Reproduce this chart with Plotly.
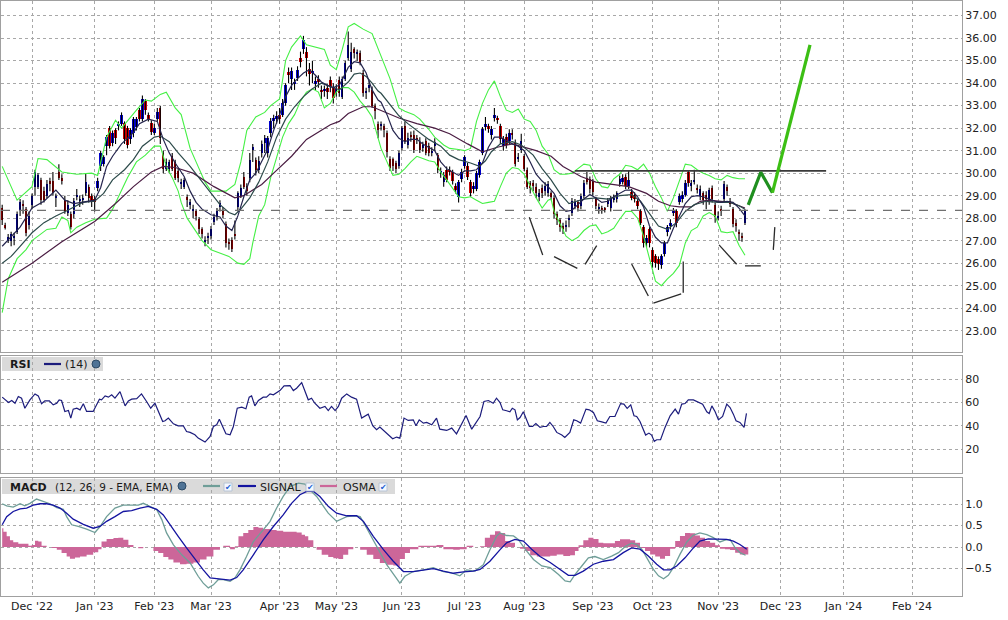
import plotly.graph_objects as go
from plotly.subplots import make_subplots

# daily bars, index 0 = mid Nov 2022, one bar per trading day
opens = [
    28.45, 27.7, 27.0, 27.0, 27.1, 27.4, 28.3, 28.65, 28.4, 27.7,
    28.6, 29.4, 29.4, 29.7, 29.2, 29.0, 29.65, 29.65, 28.9, 30.07,
    29.8, 28.8, 28.25, 28.2, 28.2, 28.95, 28.75, 28.8, 29.1, 29.4,
    29.0, 28.85, 29.33, 30.3, 30.4, 31.2, 32.0, 31.35, 31.9, 32.1,
    32.2, 32.25, 32.0, 31.5, 31.8, 32.05, 32.8, 32.4, 33.2, 32.6,
    32.25, 31.8, 32.4, 32.9, 30.9, 30.2, 30.2, 30.75, 30.5, 30.1,
    29.5, 29.4, 28.95, 28.6, 28.3, 28.3, 27.95, 27.5, 26.95, 27.1,
    27.2, 27.85, 28.05, 28.5, 28.35, 27.75, 26.95, 27.05, 27.3, 28.5,
    29.0, 29.85, 29.45, 29.8, 31.05, 30.6, 30.15, 30.9, 31.35, 30.9,
    31.8, 32.3, 32.4, 32.6, 32.6, 33.1, 34.5, 34.2, 33.95, 34.25,
    35.1, 35.5, 35.4, 34.65, 34.45, 33.95, 34.2, 33.7, 33.65, 33.8,
    34.15, 33.85, 33.55, 34.15, 33.4, 34.2, 35.1, 34.65, 35.5, 35.3,
    35.35, 34.45, 33.55, 33.8, 33.7, 33.0, 32.2, 32.1, 32.1, 31.8,
    30.65, 30.65, 30.45, 30.3, 31.1, 32.1, 31.25, 31.7, 31.7, 31.55,
    31.4, 31.1, 31.45, 31.2, 30.9, 31.2, 30.8, 30.0, 29.6, 30.15,
    30.15, 30.05, 29.45, 28.95, 29.75, 30.3, 30.3, 29.6, 29.3, 29.3,
    29.9, 30.9, 32.05, 32.1, 31.7, 32.45, 32.45, 32.1, 31.2, 31.6,
    31.45, 31.8, 31.35, 30.65, 31.05, 30.75, 30.15, 29.55, 29.55, 29.4,
    28.95, 29.35, 29.2, 29.1, 29.1, 28.9, 28.2, 27.9, 27.65, 27.6,
    27.9, 28.25, 28.55, 28.7, 28.55, 29.0, 29.8, 29.73, 29.65, 28.85,
    28.4, 28.45, 28.42, 28.65, 28.45, 28.85, 28.85, 29.5, 29.6, 29.85,
    29.45, 29.15, 29.05, 28.75, 28.3, 27.6, 26.9, 27.5, 26.6, 26.3,
    26.2, 25.9, 26.4, 27.4, 27.65, 28.25, 28.3, 28.7, 28.85, 29.05,
    30.05, 29.45, 29.6, 29.32, 29.0, 29.1, 29.05, 28.75, 29.35, 28.6,
    28.05, 28.4, 28.85, 29.4, 28.75, 28.4, 27.8, 27.35, 27.2, 27.8,
]
highs = [
    28.6, 27.8, 27.3, 27.4, 27.35, 28.3, 28.85, 28.8, 28.5, 28.3,
    29.1, 30.15, 30.0, 29.8, 29.4, 29.7, 29.8, 30.05, 29.1, 30.4,
    29.95, 29.0, 28.8, 28.3, 28.9, 29.3, 29.0, 29.05, 30.0, 29.5,
    29.1, 29.0, 29.8, 31.0, 30.8, 31.7, 32.1, 31.9, 32.0, 32.3,
    32.7, 32.3, 32.1, 32.0, 32.5, 32.5, 32.9, 33.45, 33.3, 32.7,
    32.35, 32.2, 32.9, 33.0, 31.0, 30.65, 30.6, 30.9, 30.6, 30.2,
    29.75, 29.8, 29.05, 28.85, 28.6, 28.4, 28.05, 27.6, 27.2, 27.35,
    27.65, 28.2, 28.45, 28.8, 28.5, 27.85, 27.1, 27.15, 27.9, 29.2,
    29.5, 30.05, 29.55, 30.9, 31.3, 30.7, 30.75, 31.45, 31.7, 31.65,
    32.45, 32.6, 32.75, 32.9, 33.3, 34.0, 34.7, 34.7, 34.2, 34.75,
    35.4, 36.1, 35.6, 34.9, 35.0, 34.3, 34.35, 33.9, 33.9, 33.95,
    34.3, 34.0, 33.95, 34.3, 34.3, 35.0, 36.3, 35.8, 35.6, 35.5,
    35.45, 34.6, 33.8, 34.1, 33.85, 33.1, 32.3, 32.3, 32.2, 31.9,
    30.75, 30.7, 30.55, 31.0, 32.1, 32.3, 31.8, 31.85, 31.9, 31.7,
    31.6, 31.4, 31.55, 31.35, 31.15, 31.55, 30.9, 30.25, 30.05, 30.3,
    30.3, 30.15, 29.55, 29.7, 30.2, 30.8, 30.45, 29.7, 29.6, 30.1,
    30.6, 32.05, 32.5, 32.2, 32.1, 32.9, 32.55, 32.2, 31.65, 31.75,
    31.95, 31.95, 31.5, 30.9, 31.75, 30.85, 30.25, 29.65, 29.7, 29.55,
    29.3, 29.5, 29.6, 29.65, 29.2, 29.0, 28.3, 28.0, 27.8, 27.9,
    28.15, 28.9, 28.85, 28.8, 29.1, 29.7, 30.05, 29.85, 29.75, 28.95,
    28.65, 28.55, 28.5, 28.9, 29.0, 29.05, 29.2, 29.9, 29.95, 29.95,
    30.1, 29.3, 29.15, 28.85, 28.4, 27.7, 27.25, 27.6, 26.7, 26.4,
    26.3, 26.4, 27.0, 27.7, 27.95, 28.45, 28.4, 29.1, 29.2, 29.7,
    30.1, 29.7, 30.15, 29.5, 29.45, 29.2, 29.2, 29.35, 29.45, 28.7,
    28.3, 28.55, 29.65, 29.5, 28.9, 28.5, 27.95, 27.5, 27.35, 28.4,
]
lows = [
    27.7, 27.5, 26.9, 26.75, 26.8, 27.3, 28.1, 28.2, 27.2, 27.5,
    28.4, 29.0, 29.3, 28.6, 28.7, 28.9, 29.2, 29.0, 28.5, 29.7,
    29.5, 28.2, 28.1, 27.5, 28.0, 28.8, 28.5, 28.6, 29.0, 28.7,
    28.5, 28.3, 29.2, 30.1, 30.3, 30.8, 31.1, 31.2, 31.3, 31.9,
    32.1, 31.3, 31.1, 31.3, 31.6, 31.9, 32.3, 32.3, 32.6, 32.3,
    31.7, 31.7, 32.3, 31.3, 30.0, 30.1, 30.0, 30.1, 29.7, 29.6,
    29.3, 29.3, 28.5, 28.4, 28.0, 27.9, 27.3, 27.1, 26.75, 26.85,
    27.05, 27.7, 27.9, 28.3, 28.0, 26.7, 26.6, 26.5, 27.05, 28.3,
    28.9, 29.3, 29.0, 29.6, 30.5, 29.9, 30.0, 30.7, 30.9, 30.7,
    31.6, 32.0, 32.2, 32.2, 32.5, 33.0, 34.0, 33.7, 33.7, 34.1,
    34.7, 35.3, 34.3, 33.9, 34.0, 33.7, 33.8, 33.3, 33.4, 33.3,
    33.6, 33.1, 33.4, 33.4, 33.3, 34.1, 35.0, 34.5, 35.1, 35.0,
    34.8, 33.4, 33.3, 33.6, 32.9, 32.4, 31.55, 31.9, 31.6, 30.7,
    30.1, 30.1, 30.0, 30.2, 31.0, 31.3, 31.1, 31.4, 30.9, 31.3,
    30.9, 30.95, 30.8, 30.75, 30.75, 31.0, 30.0, 29.8, 29.4, 29.6,
    29.9, 29.5, 29.1, 28.7, 29.6, 30.2, 29.7, 28.95, 29.1, 29.2,
    29.8, 30.8, 31.9, 31.8, 31.5, 32.3, 32.2, 31.3, 31.0, 31.1,
    31.3, 31.5, 30.3, 30.5, 30.9, 30.1, 29.3, 29.1, 29.2, 28.9,
    28.75, 28.9, 29.0, 28.95, 28.8, 28.0, 27.7, 27.4, 27.3, 27.4,
    27.6, 28.1, 28.4, 28.3, 28.4, 28.9, 29.5, 29.1, 29.0, 28.4,
    28.2, 28.2, 28.25, 28.5, 28.3, 28.7, 28.7, 29.4, 29.5, 29.3,
    29.3, 28.8, 28.7, 28.4, 27.7, 26.7, 26.7, 26.7, 25.8, 25.8,
    25.7, 25.75, 26.3, 27.2, 27.5, 28.1, 27.6, 28.6, 28.7, 28.95,
    29.4, 29.2, 29.5, 29.1, 28.8, 28.6, 28.4, 28.6, 28.7, 27.8,
    27.9, 28.1, 28.7, 29.0, 28.5, 27.6, 27.4, 27.0, 26.95, 27.7,
]
closes = [
    27.9, 27.55, 27.15, 27.3, 27.2, 28.2, 28.7, 28.55, 27.35, 28.1,
    29.0, 30.07, 29.9, 28.8, 28.8, 29.5, 29.5, 29.1, 29.0, 29.8,
    29.65, 28.3, 28.6, 27.6, 28.75, 29.05, 28.85, 28.9, 29.6, 28.9,
    28.75, 28.7, 29.65, 30.9, 30.7, 31.6, 31.2, 31.8, 31.55, 32.2,
    32.6, 31.5, 31.25, 31.9, 32.4, 32.4, 32.4, 33.3, 32.8, 32.4,
    31.85, 32.0, 32.7, 31.55, 30.2, 30.5, 30.5, 30.2, 29.8, 29.8,
    29.6, 29.7, 28.8, 28.7, 28.4, 28.1, 27.5, 27.3, 27.05, 27.2,
    27.5, 28.05, 28.3, 28.67, 28.15, 26.9, 26.85, 26.65, 27.2, 29.1,
    29.35, 29.4, 29.2, 30.6, 31.15, 30.15, 30.55, 31.3, 31.55, 31.55,
    32.3, 32.45, 32.55, 32.4, 33.1, 33.9, 34.35, 34.55, 34.05, 34.6,
    34.95, 35.9, 35.1, 34.4, 34.55, 34.1, 34.05, 33.6, 33.75, 33.6,
    33.85, 33.35, 33.8, 33.55, 34.2, 34.9, 35.7, 35.4, 35.35, 35.35,
    34.95, 33.55, 33.65, 33.9, 33.0, 32.75, 31.9, 32.2, 31.9, 30.95,
    30.25, 30.3, 30.2, 30.9, 32.0, 31.4, 31.55, 31.6, 31.05, 31.5,
    31.05, 31.25, 30.9, 30.9, 31.0, 31.4, 30.15, 30.1, 29.9, 29.7,
    30.05, 29.65, 29.25, 29.6, 30.05, 30.7, 29.85, 29.1, 29.45, 30.0,
    30.5, 31.95, 32.2, 31.95, 31.95, 32.6, 32.4, 31.5, 31.5, 31.25,
    31.8, 31.7, 30.4, 30.7, 31.45, 30.2, 29.4, 29.35, 29.45, 29.1,
    29.1, 29.1, 29.45, 29.5, 28.95, 28.2, 27.9, 27.6, 27.5, 27.7,
    28.0, 28.75, 28.7, 28.45, 29.0, 29.55, 29.6, 29.3, 29.15, 28.55,
    28.5, 28.35, 28.38, 28.75, 28.85, 28.9, 29.1, 29.75, 29.8, 29.45,
    29.7, 28.9, 28.85, 28.55, 27.8, 26.9, 27.1, 26.9, 26.05, 26.0,
    25.95, 26.3, 26.9, 27.6, 27.8, 28.35, 27.8, 29.0, 29.05, 29.55,
    29.55, 29.55, 29.7, 29.28, 29.3, 28.8, 28.85, 29.25, 28.85, 28.05,
    28.1, 28.3, 29.5, 29.2, 28.65, 27.75, 27.65, 27.3, 27.1, 28.35,
]

month_ticks = [10, 31, 51, 70, 93, 112, 134, 155, 175, 198, 218, 240, 261, 282, 305]
month_labels = ["Dec '22", "Jan '23", "Feb '23", "Mar '23", "Apr '23", "May '23", "Jun '23",
                "Jul '23", "Aug '23", "Sep '23", "Oct '23", "Nov '23", "Dec '23", "Jan '24", "Feb '24"]

# overlays as (bar index, value)
bb_upper = [(0, 30.3), (5, 28.8), (10, 29.4), (12, 30.65), (15, 30.6), (20, 30.05), (25, 29.95),
            (30, 30.0), (32, 29.9), (35, 31.6), (38, 32.35), (40, 32.0), (45, 32.8), (48, 33.25),
            (50, 33.2), (53, 33.5), (55, 33.6), (58, 32.9), (60, 32.6), (63, 31.1), (65, 30.5),
            (68, 29.6), (70, 29.2), (75, 29.2), (78, 29.5), (80, 30.5), (82, 31.9), (85, 32.5),
            (88, 32.7), (90, 33.0), (93, 33.3), (95, 35.0), (97, 35.6), (100, 36.1), (102, 35.7),
            (105, 35.6), (108, 35.5), (110, 34.8), (112, 34.6), (114, 35.5), (116, 36.5),
            (118, 36.65), (121, 36.4), (124, 36.2), (127, 35.2), (128, 34.8), (130, 34.2),
            (133, 32.9), (135, 32.75), (138, 32.6), (140, 32.4), (143, 31.95), (145, 31.6),
            (148, 31.25), (150, 31.1), (153, 31.05), (155, 31.0), (157, 31.1), (159, 32.3),
            (161, 33.1), (163, 33.7), (165, 34.1), (167, 33.4), (169, 32.8), (171, 32.7),
            (173, 32.85), (175, 32.4), (177, 32.3), (179, 31.9), (181, 31.2), (183, 30.85),
            (185, 30.15), (187, 29.95), (189, 29.95), (191, 30.0), (193, 30.2), (195, 30.4),
            (197, 30.35), (199, 29.75), (201, 29.4), (203, 29.35), (205, 29.75), (207, 29.95),
            (209, 30.35), (211, 30.3), (213, 30.15), (215, 30.4), (217, 30.0), (219, 29.4),
            (221, 28.9), (223, 28.3), (225, 28.9), (227, 29.7), (229, 30.4), (231, 30.35),
            (233, 30.15), (235, 30.0), (237, 29.9), (239, 29.75), (241, 29.7), (243, 29.9),
            (245, 29.8), (247, 29.75), (249, 29.75)]
bb_lower = [(0, 23.8), (2, 25.3), (5, 26.2), (8, 26.6), (10, 27.0), (12, 27.2), (15, 27.5),
            (18, 27.55), (20, 28.05), (22, 27.9), (23, 27.35), (25, 27.6), (28, 27.8), (31, 27.95),
            (35, 28.0), (37, 28.4), (40, 29.2), (42, 29.8), (45, 30.5), (48, 30.8), (51, 31.2),
            (53, 31.2), (55, 30.3), (57, 29.8), (59, 29.2), (60, 28.7), (62, 28.0), (65, 27.4),
            (67, 27.0), (70, 26.6), (73, 26.45), (76, 26.3), (79, 26.0), (81, 25.95), (83, 26.2),
            (84, 26.9), (86, 28.1), (88, 28.6), (90, 29.8), (92, 30.7), (94, 31.6), (96, 32.2),
            (98, 32.6), (100, 33.2), (102, 33.6), (104, 33.75), (106, 33.6), (108, 32.9),
            (110, 33.1), (112, 33.6), (114, 33.8), (116, 33.8), (118, 33.6), (120, 33.2),
            (122, 32.9), (124, 32.5), (126, 31.5), (127, 31.1), (129, 30.5), (131, 29.9),
            (133, 29.95), (135, 30.2), (137, 30.5), (139, 30.75), (141, 30.65), (143, 30.55),
            (145, 30.5), (147, 30.05), (149, 29.7), (151, 29.3), (153, 28.95), (155, 28.9),
            (157, 28.95), (159, 28.8), (161, 28.65), (163, 28.7), (165, 28.75), (167, 29.4),
            (169, 30.0), (171, 30.25), (173, 30.2), (175, 29.95), (177, 29.4), (179, 28.9),
            (181, 28.45), (183, 28.8), (184, 28.85), (185, 28.3), (187, 27.75), (189, 27.2),
            (191, 27.0), (193, 27.15), (195, 27.45), (197, 27.65), (199, 27.7), (201, 27.3),
            (203, 27.4), (205, 27.55), (207, 27.95), (209, 28.3), (211, 28.3), (213, 28.0),
            (215, 27.2), (217, 26.2), (219, 25.2), (221, 25.0), (223, 25.3), (225, 25.55),
            (227, 25.9), (229, 26.9), (231, 27.45), (233, 27.6), (235, 28.1), (237, 28.25),
            (239, 28.1), (241, 27.4), (243, 27.35), (245, 27.4), (247, 26.8), (249, 26.35)]
ma_fast = [(0, 26.75), (3, 27.2), (6, 27.6), (10, 28.45), (14, 28.75), (18, 29.25), (21, 28.8),
           (24, 28.65), (28, 28.75), (31, 28.8), (33, 29.35), (35, 30.3), (37, 30.75), (40, 31.3),
           (44, 31.8), (46, 32.2), (49, 32.4), (52, 32.3), (54, 31.5), (56, 30.9), (58, 30.45),
           (61, 29.85), (63, 29.2), (65, 28.7), (67, 28.4), (70, 28.15), (73, 28.05), (75, 27.65),
           (77, 27.45), (79, 28.1), (81, 28.95), (83, 29.7), (85, 30.0), (87, 30.5), (89, 31.05),
           (91, 31.9), (93, 32.6), (95, 33.4), (97, 33.9), (99, 34.2), (101, 34.45), (103, 34.6),
           (105, 34.35), (107, 34.05), (109, 33.9), (111, 33.8), (113, 33.9), (114, 34.15),
           (116, 34.7), (118, 34.95), (120, 34.9), (122, 34.45), (124, 33.7), (126, 33.25),
           (127, 33.15), (129, 32.6), (131, 31.9), (133, 31.55), (135, 31.4), (137, 31.5),
           (139, 31.5), (141, 31.3), (143, 31.15), (145, 31.0), (147, 30.5), (149, 30.2),
           (151, 30.05), (153, 29.9), (155, 30.1), (157, 30.1), (159, 30.15), (161, 30.45),
           (163, 31.15), (165, 31.6), (167, 31.6), (169, 31.45), (171, 31.3), (173, 31.2),
           (175, 31.0), (177, 30.5), (179, 29.95), (181, 29.65), (183, 29.4), (185, 29.1),
           (187, 28.55), (189, 28.3), (191, 28.35), (193, 28.6), (195, 28.85), (197, 29.05),
           (199, 28.9), (201, 28.7), (203, 28.75), (205, 28.95), (207, 29.1), (209, 29.25),
           (211, 29.25), (213, 28.95), (215, 28.5), (217, 27.65), (219, 27.15), (221, 26.9),
           (223, 26.9), (225, 27.55), (227, 28.1), (229, 28.65), (231, 28.95), (233, 29.0),
           (235, 28.95), (237, 28.85), (239, 28.75), (241, 28.7), (243, 28.75), (245, 28.7),
           (247, 28.45), (249, 28.1)]
ma_mid = [(0, 26.0), (3, 26.3), (6, 26.75), (10, 27.35), (14, 27.8), (18, 28.1), (22, 28.35),
          (27, 28.7), (31, 28.75), (34, 29.1), (37, 29.7), (41, 30.15), (44, 30.6), (47, 31.2),
          (51, 31.6), (53, 31.65), (56, 31.4), (59, 30.9), (63, 30.3), (65, 29.95), (67, 29.6),
          (70, 29.1), (73, 28.6), (76, 28.25), (78, 28.15), (80, 28.4), (83, 28.9), (86, 29.6),
          (89, 30.5), (92, 31.6), (95, 32.4), (98, 32.95), (101, 33.4), (104, 33.75), (107, 34.0),
          (110, 33.85), (113, 33.7), (116, 34.05), (118, 34.4), (120, 34.45), (122, 34.3),
          (124, 34.0), (126, 33.65), (127, 33.55), (130, 33.05), (133, 32.55), (136, 32.2),
          (140, 31.8), (143, 31.5), (147, 31.2), (150, 30.8), (153, 30.6), (157, 30.45),
          (160, 30.3), (162, 30.55), (164, 30.95), (167, 31.3), (171, 31.4), (174, 31.25),
          (178, 30.8), (181, 30.2), (184, 29.7), (187, 29.1), (190, 28.65), (195, 28.85),
          (199, 28.9), (203, 28.85), (207, 29.0), (211, 29.05), (214, 28.75), (217, 28.2),
          (220, 27.65), (223, 27.5), (226, 27.8), (229, 28.3), (232, 28.6), (236, 28.75),
          (240, 28.7), (244, 28.7), (247, 28.55), (249, 28.4)]
ma_slow = [(0, 25.15), (10, 26.0), (20, 26.95), (31, 27.85), (38, 28.65), (44, 29.4), (50, 30.05),
           (54, 30.3), (58, 30.25), (64, 30.0), (71, 29.4), (78, 28.9), (81, 29.0), (87, 29.5),
           (91, 30.0), (97, 30.75), (102, 31.5), (108, 32.0), (110, 32.15), (113, 32.3),
           (116, 32.65), (121, 32.95), (124, 32.95), (133, 32.45), (139, 32.2), (145, 32.0),
           (150, 31.75), (156, 31.3), (161, 30.95), (166, 31.15), (171, 31.3), (179, 31.0),
           (184, 30.75), (188, 30.3), (194, 29.85), (199, 29.6), (205, 29.5), (210, 29.4),
           (216, 29.1), (220, 28.75), (224, 28.55), (227, 28.5), (231, 28.5), (234, 28.75),
           (237, 28.8), (244, 28.7), (249, 28.45)]

# hand drawn pattern lines: (x0, y0, x1, y1) in bar index / price
pattern_segments = [(176.7, 28.04, 181.2, 26.36), (185.0, 26.29, 192.8, 25.77),
                    (195.4, 25.95, 199.3, 26.78), (211.0, 25.96, 216.6, 24.54),
                    (218.3, 24.22, 227.6, 24.63), (228.3, 24.69, 228.3, 26.07),
                    (240.3, 26.81, 246.2, 25.95), (249.0, 25.88, 254.3, 25.88),
                    (258.5, 26.59, 259.0, 27.6)]
resistance = (192.0, 276.2, 30.1)
last_price = 28.35
projection_a = [(250.1, 28.59), (254.3, 30.04), (258.2, 29.13)]
projection_b = [(258.2, 29.13), (270.8, 35.7)]

rsi = [(0, 64.6), (1, 62.3), (2.1, 60.0), (3.2, 61.7), (4.3, 59.4), (5.4, 65.1), (6.5, 63.7),
       (7.6, 55.1), (9.3, 62.3), (11.0, 67.4), (12.1, 65.7), (13.2, 58.9), (14.3, 61.4),
       (15.8, 61.4), (17.1, 58.0), (18.3, 59.4), (19.1, 62.3), (19.9, 61.7), (21.0, 52.3),
       (22.2, 53.1), (23.0, 46.6), (23.8, 54.3), (25.0, 55.1), (26.1, 53.7), (27.2, 58.9),
       (28.3, 52.3), (30.5, 52.3), (32.6, 62.9), (33.3, 62.3), (34.5, 65.7), (35.6, 64.6),
       (36.7, 66.6), (37.8, 63.7), (39.5, 69.4), (41.2, 57.1), (42.3, 61.4), (43.4, 62.9),
       (45.1, 63.4), (46.7, 67.4), (48.4, 60.9), (49.8, 55.1), (51.2, 59.4), (52.3, 53.1),
       (53.8, 43.7), (54.6, 44.3), (55.7, 46.6), (57.4, 41.7), (59.0, 40.0), (60.7, 40.0),
       (61.8, 35.1), (63.0, 34.3), (64.6, 32.3), (65.7, 29.4), (68.0, 26.0), (69.7, 30.9),
       (70.8, 39.4), (71.9, 40.9), (72.8, 45.7), (73.9, 39.4), (75.0, 33.1), (76.4, 32.3),
       (77.5, 39.4), (78.8, 55.1), (80.3, 56.0), (81.7, 54.6), (82.8, 64.6), (83.6, 65.7),
       (84.7, 57.1), (85.9, 61.7), (87.5, 64.6), (88.6, 64.6), (89.8, 67.4), (90.9, 66.6),
       (92.0, 68.6), (93.1, 70.3), (94.5, 74.3), (95.6, 74.6), (96.5, 74.6), (97.6, 70.3),
       (98.7, 72.3), (100.4, 77.1), (101.5, 69.4), (102.6, 62.3), (103.7, 63.7), (104.8, 59.4),
       (106.5, 55.1), (108.2, 56.6), (109.3, 53.1), (110.4, 56.6), (111.6, 53.1), (112.7, 56.6),
       (113.8, 63.7), (115.5, 67.4), (117.1, 64.6), (118.8, 62.9), (120.5, 46.6), (121.6, 48.0),
       (122.7, 50.0), (124.2, 40.0), (125.5, 36.6), (126.6, 38.9), (128.3, 35.1), (129.4, 33.1),
       (130.9, 28.9), (132.2, 30.3), (133.3, 29.4), (134.7, 46.6), (136.1, 44.6), (137.8, 45.1),
       (138.7, 40.0), (139.8, 45.1), (141.2, 42.3), (142.3, 42.9), (144.0, 40.9), (145.6, 46.6),
       (146.7, 37.1), (149.0, 36.0), (150.7, 38.0), (152.3, 33.1), (154.0, 41.7), (155.5, 48.9),
       (157.4, 37.1), (158.5, 41.7), (160.2, 48.0), (161.5, 60.9), (163.0, 61.7), (164.6, 59.4),
       (165.7, 63.7), (166.9, 60.0), (167.8, 53.7), (169.1, 52.9), (170.2, 52.0), (171.0, 55.1),
       (171.9, 53.7), (172.7, 45.1), (173.6, 47.1), (174.7, 52.0), (175.8, 44.3), (176.7, 39.4),
       (177.8, 39.4), (178.9, 41.9), (180.3, 38.6), (181.4, 39.4), (182.5, 39.4), (183.6, 42.9),
       (184.7, 39.4), (185.9, 34.3), (187.6, 32.0), (188.6, 30.0), (190.3, 34.3), (191.6, 45.1),
       (192.6, 44.3), (193.9, 42.3), (195.7, 54.3), (196.8, 53.7), (198.2, 51.4), (199.5, 44.3),
       (201.0, 43.4), (202.4, 42.3), (203.7, 48.0), (205.4, 48.0), (207.3, 59.1), (208.4, 58.6),
       (209.5, 54.9), (210.7, 58.0), (211.8, 48.6), (212.7, 48.0), (213.8, 43.7), (215.7, 32.0),
       (216.8, 33.7), (217.7, 32.0), (218.6, 26.6), (219.4, 28.0), (220.7, 28.0), (222.2, 38.6),
       (223.9, 48.6), (225.6, 54.3), (226.7, 50.0), (227.8, 58.6), (228.9, 59.1), (230.0, 62.3),
       (231.7, 62.3), (232.8, 60.9), (233.9, 59.1), (234.8, 58.6), (236.2, 52.0), (237.0, 50.6),
       (237.9, 57.1), (239.0, 52.0), (240.1, 45.1), (241.5, 48.0), (242.9, 58.6), (244.0, 55.7),
       (245.1, 50.0), (246.0, 44.3), (247.3, 42.9), (248.7, 38.6), (249.5, 50.6)]

macd = [(0, 1.01), (1.5, 0.96), (3.7, 0.93), (6.0, 1.01), (7.6, 0.96), (9.3, 1.02), (11.5, 1.12),
        (13.8, 1.06), (16.0, 1.01), (18.3, 0.92), (20.5, 0.88), (21.6, 0.71), (23.3, 0.52),
        (25.5, 0.48), (28.3, 0.42), (31.1, 0.34), (32.8, 0.48), (35.0, 0.71), (37.8, 0.91),
        (40.6, 0.98), (43.4, 0.98), (45.6, 0.98), (47.3, 1.02), (49.5, 0.95), (51.8, 0.87),
        (53.5, 0.64), (55.1, 0.33), (57.4, 0.05), (60.2, -0.18), (63.0, -0.37), (65.7, -0.68),
        (67.4, -0.84), (69.1, -0.95), (70.8, -0.88), (72.4, -0.76), (74.1, -0.76), (76.4, -0.80),
        (78.0, -0.72), (79.7, -0.53), (81.9, -0.22), (84.2, 0.13), (87.5, 0.40), (89.8, 0.60),
        (92.0, 0.91), (94.2, 1.18), (96.5, 1.41), (99.3, 1.49), (101.5, 1.47), (103.2, 1.33),
        (105.4, 1.18), (107.1, 1.02), (109.3, 0.79), (112.1, 0.60), (115.5, 0.71), (118.3, 0.73),
        (120.0, 0.71), (122.2, 0.44), (125.5, 0.02), (128.9, -0.41), (131.7, -0.68),
        (133.3, -0.84), (135.0, -0.68), (137.8, -0.57), (141.2, -0.53), (144.5, -0.48),
        (147.9, -0.57), (150.7, -0.60), (153.4, -0.67), (155.7, -0.53), (158.5, -0.56),
        (161.3, -0.41), (163.5, -0.06), (165.7, 0.25), (166.9, 0.33), (169.1, 0.27), (171.4, 0.26),
        (173.0, 0.18), (175.3, -0.05), (178.1, -0.29), (180.9, -0.44), (183.7, -0.48),
        (186.5, -0.64), (188.7, -0.79), (190.4, -0.81), (192.0, -0.64), (194.3, -0.44),
        (196.5, -0.25), (198.7, -0.22), (201.5, -0.29), (204.3, -0.21), (206.6, -0.13),
        (208.8, 0.01), (211.0, 0.09), (212.7, 0.06), (214.4, -0.05), (216.1, -0.25),
        (218.3, -0.52), (220.0, -0.67), (221.7, -0.74), (223.3, -0.66), (225.0, -0.48),
        (227.2, -0.17), (229.5, 0.12), (231.7, 0.28), (233.9, 0.33), (236.2, 0.29), (238.4, 0.22),
        (240.6, 0.12), (242.3, 0.16), (244.0, 0.18), (245.7, -0.02), (247.3, -0.13), (249.2, -0.19)]
signal = [(0, 0.52), (1.5, 0.71), (3.7, 0.83), (6.0, 0.89), (8.2, 0.91), (10.4, 0.98), (12.7, 1.01),
          (14.9, 1.01), (17.1, 0.98), (19.4, 0.91), (21.6, 0.79), (23.8, 0.65), (27.2, 0.53),
          (30.5, 0.44), (32.8, 0.48), (35.0, 0.60), (37.8, 0.71), (40.6, 0.83), (43.4, 0.85),
          (46.2, 0.91), (49.0, 0.95), (51.8, 0.88), (54.0, 0.75), (56.2, 0.52), (59.0, 0.25),
          (61.8, -0.02), (64.6, -0.29), (67.4, -0.53), (69.7, -0.72), (73.0, -0.74), (76.4, -0.77),
          (78.6, -0.71), (80.8, -0.53), (84.2, -0.18), (87.5, 0.17), (90.9, 0.48), (94.2, 0.75),
          (97.0, 1.02), (99.8, 1.22), (102.1, 1.30), (104.3, 1.30), (106.5, 1.18), (109.3, 0.95),
          (112.1, 0.79), (115.5, 0.73), (118.8, 0.73), (121.1, 0.60), (124.4, 0.25), (127.8, -0.06),
          (131.1, -0.33), (134.5, -0.57), (137.8, -0.57), (141.2, -0.54), (144.5, -0.50),
          (147.9, -0.56), (151.2, -0.61), (154.6, -0.58), (157.9, -0.56), (160.2, -0.52),
          (163.5, -0.33), (166.9, -0.06), (169.1, 0.10), (171.9, 0.18), (174.7, 0.14),
          (177.5, -0.05), (180.3, -0.22), (183.7, -0.36), (187.0, -0.52), (189.8, -0.66),
          (192.0, -0.66), (194.8, -0.56), (198.2, -0.40), (201.5, -0.33), (204.9, -0.29),
          (208.2, -0.13), (211.0, -0.02), (213.8, -0.05), (216.6, -0.21), (219.4, -0.40),
          (221.7, -0.53), (223.9, -0.53), (226.1, -0.44), (228.9, -0.25), (231.7, -0.02),
          (233.9, 0.14), (236.7, 0.19), (239.5, 0.18), (242.9, 0.18), (245.1, 0.14), (247.3, 0.06),
          (249.6, -0.05)]
osma = [(0, 0.44), (0.4, 0.36), (1.5, 0.25), (2.6, 0.16), (3.7, 0.11), (5.4, 0.08), (7.1, 0.08),
        (8.8, 0.03), (9.9, 0.05), (11.0, 0.15), (12.1, 0.13), (13.2, 0.03), (14.9, 0.0),
        (16.6, -0.02), (18.3, -0.06), (19.9, -0.14), (21.6, -0.22), (22.7, -0.27), (24.4, -0.24),
        (26.1, -0.22), (28.3, -0.18), (30.5, -0.12), (32.2, -0.05), (33.3, 0.13), (35.0, 0.19),
        (37.3, 0.21), (38.9, 0.22), (40.6, 0.17), (42.3, 0.05), (44.0, 0.0), (45.6, -0.03),
        (47.3, 0.0), (49.0, 0.0), (50.7, -0.09), (52.3, -0.14), (54.0, -0.23), (55.7, -0.29),
        (57.4, -0.36), (59.6, -0.40), (61.8, -0.39), (64.1, -0.36), (66.3, -0.29), (68.5, -0.22),
        (70.8, -0.06), (73.0, 0.0), (74.1, 0.03), (76.4, -0.05), (78.0, 0.02), (79.2, 0.25),
        (80.8, 0.33), (82.5, 0.40), (84.2, 0.47), (85.9, 0.45), (87.5, 0.42), (89.8, 0.40),
        (92.0, 0.38), (94.2, 0.36), (96.5, 0.36), (98.7, 0.34), (100.4, 0.29), (101.5, 0.25),
        (102.6, 0.16), (104.3, 0.0), (105.4, -0.06), (107.1, -0.18), (109.3, -0.23),
        (111.0, -0.26), (112.7, -0.28), (114.3, -0.18), (116.0, -0.05), (117.7, 0.0),
        (120.0, -0.06), (122.2, -0.18), (124.4, -0.28), (126.6, -0.37), (128.9, -0.41),
        (131.1, -0.43), (132.8, -0.45), (133.3, -0.28), (135.0, -0.14), (136.7, -0.05),
        (139.5, 0.03), (142.3, 0.03), (145.6, 0.05), (147.9, -0.05), (151.2, -0.06),
        (153.4, -0.05), (155.7, 0.03), (157.9, 0.0), (160.2, 0.02), (161.8, 0.22), (163.5, 0.29),
        (165.2, 0.37), (167.0, 0.33), (168.6, 0.14), (170.3, 0.10), (171.9, 0.0), (173.6, -0.04),
        (175.3, -0.09), (177.0, -0.19), (179.2, -0.22), (181.4, -0.22), (183.7, -0.20),
        (185.9, -0.17), (188.1, -0.21), (190.4, -0.19), (192.0, -0.09), (193.2, 0.04),
        (194.8, 0.16), (196.5, 0.22), (198.2, 0.19), (199.9, 0.10), (201.5, 0.09), (203.8, 0.09),
        (205.4, 0.14), (207.1, 0.18), (208.8, 0.18), (210.5, 0.16), (212.2, 0.10), (213.8, -0.02),
        (215.5, -0.09), (217.2, -0.17), (218.9, -0.22), (220.5, -0.27), (222.2, -0.21),
        (223.9, -0.04), (225.6, 0.14), (227.2, 0.26), (228.9, 0.33), (230.6, 0.32), (232.3, 0.27),
        (233.9, 0.22), (235.6, 0.14), (237.3, 0.10), (239.0, 0.04), (240.6, -0.04),
        (242.3, -0.05), (244.0, -0.07), (245.7, -0.13), (247.3, -0.17), (249.0, -0.17),
        (250.1, -0.09)]

FONT = "DejaVu Sans"
GRID = "#a8a8a8"
BORDER = "#a0a0a0"


def xs(pairs):
    return [p[0] for p in pairs]


def ys(pairs):
    return [p[1] for p in pairs]


fig = make_subplots(rows=3, cols=1, shared_xaxes=True, vertical_spacing=0.01)

n = min(len(opens), len(highs), len(lows), len(closes))
idx = list(range(n))

# wicks
wx, wy = [], []
for i in idx:
    wx += [i, i, None]
    wy += [lows[i], highs[i], None]
fig.add_trace(go.Scatter(x=wx, y=wy, mode="lines", line=dict(color="#000000", width=1.1),
                         hoverinfo="skip"), row=1, col=1)

# bodies
body_base = [min(opens[i], closes[i]) for i in idx]
body_len = [max(abs(closes[i] - opens[i]), 0.05) for i in idx]
body_col = ["#0000cc" if closes[i] >= opens[i] else "#cc0000" for i in idx]
fig.add_trace(go.Bar(x=idx, y=body_len, base=body_base, width=0.8,
                     marker=dict(color=body_col, line=dict(width=0))), row=1, col=1)

# bands and averages
for pairs, col, w in [(bb_upper, "#44f044", 1.1), (bb_lower, "#44f044", 1.1),
                      (ma_slow, "#4a1c42", 1.2), (ma_mid, "#2c4a4a", 1.2),
                      (ma_fast, "#25254e", 1.2)]:
    fig.add_trace(go.Scatter(x=xs(pairs), y=ys(pairs), mode="lines",
                             line=dict(color=col, width=w)), row=1, col=1)

# drawings
fig.add_hline(y=last_price, line=dict(color="#707070", width=1.3, dash="dash"), row=1, col=1)
fig.add_trace(go.Scatter(x=[resistance[0], resistance[1]], y=[resistance[2], resistance[2]],
                         mode="lines", line=dict(color="#3a3a3a", width=1.6)), row=1, col=1)
px_, py_ = [], []
for s in pattern_segments:
    px_ += [s[0], s[2], None]
    py_ += [s[1], s[3], None]
fig.add_trace(go.Scatter(x=px_, y=py_, mode="lines", line=dict(color="#2a2a2a", width=1.3)),
              row=1, col=1)
fig.add_trace(go.Scatter(x=xs(projection_a), y=ys(projection_a), mode="lines",
                         line=dict(color="#1f8f1f", width=3.2)), row=1, col=1)
fig.add_trace(go.Scatter(x=xs(projection_b), y=ys(projection_b), mode="lines",
                         line=dict(color="#3cbf14", width=3.2)), row=1, col=1)

# RSI
fig.add_trace(go.Scatter(x=xs(rsi), y=ys(rsi), mode="lines",
                         line=dict(color="#1c1c7c", width=1.2)), row=2, col=1)

# MACD
fig.add_trace(go.Scatter(x=xs(osma), y=ys(osma), mode="lines", fill="tozeroy",
                         fillcolor="#cc6699", line=dict(color="#cc6699", width=0, shape="hv")),
              row=3, col=1)
fig.add_trace(go.Scatter(x=xs(macd), y=ys(macd), mode="lines",
                         line=dict(color="#6f9e98", width=1.3)), row=3, col=1)
fig.add_trace(go.Scatter(x=xs(signal), y=ys(signal), mode="lines",
                         line=dict(color="#1414a0", width=1.3)), row=3, col=1)

axis_common = dict(showgrid=True, gridcolor=GRID, griddash="dot", gridwidth=1,
                   showline=True, mirror=True, linecolor=BORDER, linewidth=1,
                   zeroline=False, ticks="")
fig.update_xaxes(range=[-0.4, 321.75], tickvals=month_ticks, ticktext=month_labels,
                 showticklabels=False, **axis_common)
fig.update_xaxes(showticklabels=True, row=3, col=1)
fig.update_yaxes(side="right", **axis_common)
fig.update_yaxes(range=[22.05, 37.65], tickvals=list(range(23, 38)), tickformat=".2f",
                 row=1, col=1)
fig.update_yaxes(range=[-0.6, 100], tickvals=[20, 40, 60, 80], row=2, col=1)
fig.update_yaxes(range=[-1.14, 1.61], tickvals=[-0.5, 0, 0.5, 1.0], tickformat=".1f",
                 row=3, col=1)

fig.update_layout(
    width=1008, height=620,
    margin=dict(l=1, r=46, t=1, b=24),
    paper_bgcolor="white", plot_bgcolor="white",
    showlegend=False, bargap=0, hovermode=False,
    font=dict(family=FONT, size=11, color="#222222"),
    yaxis=dict(domain=[0.410, 1.0]),
    yaxis2=dict(domain=[0.2067, 0.4034]),
    yaxis3=dict(domain=[0.0, 0.1983]),
)


# panel headers, placed in pixels of the plotting area
def fx(x):
    return (x - 1) / 961


def fy(y):
    return (596 - y) / 595


def header_box(x0, x1, y0, y1):
    fig.add_shape(type="rect", xref="paper", yref="paper", x0=fx(x0), x1=fx(x1),
                  y0=fy(y1), y1=fy(y0), fillcolor="#dadada", line=dict(width=0), layer="below")


def sample_line(x0, x1, y, col):
    fig.add_shape(type="line", xref="paper", yref="paper", x0=fx(x0), x1=fx(x1),
                  y0=fy(y), y1=fy(y), line=dict(color=col, width=2.2))


def label(x, y, text, size=11):
    fig.add_annotation(xref="paper", yref="paper", x=fx(x), y=fy(y), text=text,
                       showarrow=False, xanchor="left", yanchor="middle",
                       font=dict(family=FONT, size=size, color="#1a1a1a"))


def globe(x, y):
    fig.add_shape(type="circle", xref="paper", yref="paper", x0=fx(x - 4), x1=fx(x + 4),
                  y0=fy(y + 4), y1=fy(y - 4), fillcolor="#4f7396",
                  line=dict(color="#2d4a66", width=1))


def checkbox(x, y):
    fig.add_shape(type="rect", xref="paper", yref="paper", x0=fx(x - 4), x1=fx(x + 4),
                  y0=fy(y + 4), y1=fy(y - 4), fillcolor="#f4f8ff",
                  line=dict(color="#b8c4d4", width=1))
    fig.add_annotation(xref="paper", yref="paper", x=fx(x), y=fy(y), text="✔",
                       showarrow=False, xanchor="center", yanchor="middle",
                       font=dict(family=FONT, size=8, color="#1f5fd0"))


header_box(2, 103, 357, 371)
label(8, 364.5, "<b>RSI</b>")
sample_line(44, 61, 364, "#1c1c7c")
label(63, 364.5, "(14)")
globe(96, 364)

header_box(2, 395, 479, 494)
label(8, 487, "<b>MACD</b>")
label(53, 487, "(12, 26, 9 - EMA, EMA)", size=10.5)
globe(182, 486)
sample_line(203, 220, 486, "#6f9e98")
checkbox(228, 487)
sample_line(238, 256, 486, "#1414a0")
label(258, 487, "SIGNAL")
checkbox(310, 487)
sample_line(320, 337, 486, "#cc6699")
label(341, 487, "OSMA")
checkbox(383, 487)

# the page body has an 8px default margin; drop it so the chart sits at the window origin
fig.write_html("out.html", config={"displayModeBar": False},
               post_script="document.body.style.margin='0px';")
